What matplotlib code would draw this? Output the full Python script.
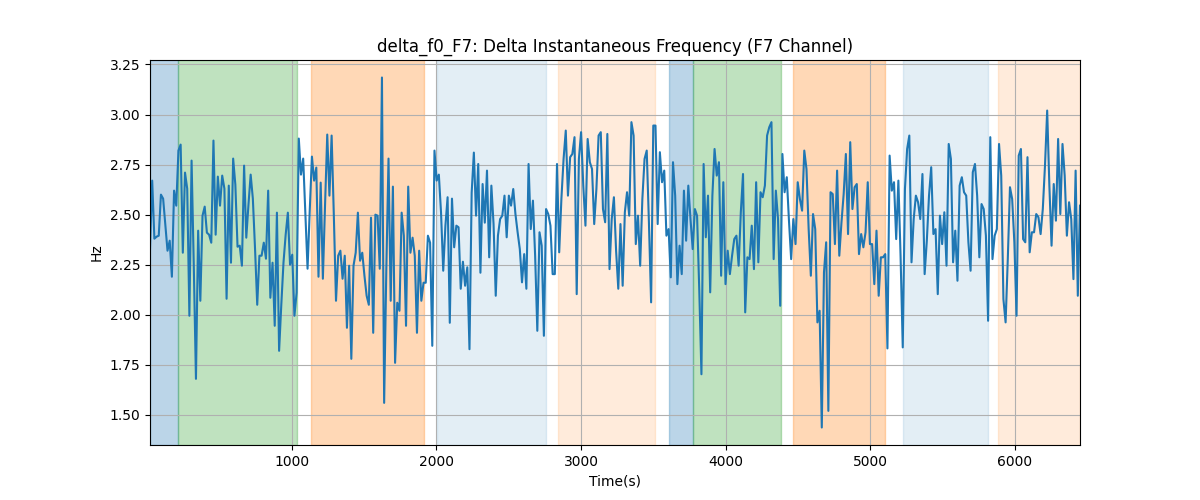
import numpy as np
import matplotlib
matplotlib.use("Agg")
import matplotlib.pyplot as plt

# значения сигнала (по участкам слева направо)
seg1 = [2.33, 2.67, 2.38, 2.39, 2.395, 2.60, 2.58, 2.45, 2.32, 2.37, 2.19, 2.62, 2.545, 2.82, 2.85,
        2.31, 2.71, 2.63, 1.995, 2.77, 2.25, 1.68, 2.42, 2.07, 2.495, 2.54, 2.41, 2.40, 2.36, 2.87,
        2.40, 2.69, 2.545, 2.695, 2.63, 2.08, 2.645, 2.26, 2.78, 2.65, 2.34, 2.345, 2.245, 2.745]
seg2 = [2.385, 2.55, 2.70, 2.58, 2.33, 2.05, 2.295, 2.295, 2.36, 2.28, 2.62, 2.085, 2.26, 1.945,
        2.51, 1.82, 2.05, 2.26, 2.40, 2.51, 2.25, 2.30, 1.995, 2.11, 2.88, 2.70, 2.78, 2.50,
        2.23, 2.52, 2.79, 2.67, 2.735, 2.19, 2.66, 2.18, 2.55, 2.90, 2.595, 2.895, 2.50]
seg3 = [2.07, 2.295, 2.32, 2.18, 2.295, 1.935, 2.245, 1.78, 2.245, 2.31, 2.51, 2.27, 2.31, 2.195,
        2.095, 2.05, 2.485, 1.91, 2.50, 2.495, 2.23, 3.185, 1.56, 2.23, 2.78, 2.07, 2.64, 1.76,
        2.06, 2.02, 2.51, 2.395, 1.945, 2.64, 2.31, 2.385, 2.295, 1.91, 2.32, 2.07, 2.16, 2.16,
        2.395, 2.36, 1.845]
seg4 = [2.82, 2.67, 2.70, 2.51, 2.22, 2.445, 2.587, 1.96, 2.58, 2.337, 2.445, 2.437, 2.13, 2.265,
        2.145, 2.237, 1.828, 2.61, 2.81, 2.495, 2.753, 2.21, 2.653, 2.46, 2.72, 2.287, 2.645,
        2.453, 2.095, 2.395, 2.478, 2.495, 2.595, 2.387, 2.595, 2.545, 2.628, 2.503, 2.412,
        2.328, 2.162, 2.303, 2.13]
seg5 = [2.753, 2.428, 2.57, 2.295, 1.92, 2.412, 2.345, 1.895, 2.528, 2.503, 2.445, 2.203, 2.203,
        2.753, 2.312, 2.578, 2.778, 2.92, 2.595, 2.787, 2.803, 2.887, 2.103, 2.778, 2.912, 2.645,
        2.445, 2.878, 2.762, 2.728, 2.453, 2.628, 2.895, 2.912, 2.528, 2.462, 2.903, 2.228,
        2.478, 2.587, 2.32, 2.13, 2.453]
seg6 = [2.145, 2.512, 2.612, 2.495, 2.962, 2.895, 2.353, 2.495, 2.245, 2.578, 2.778, 2.82, 2.462,
        2.062, 2.945, 2.945, 2.453, 2.812, 2.662, 2.72, 2.395, 2.428, 2.187, 2.762, 2.595, 2.153,
        2.345, 2.203, 2.62, 2.37, 2.645, 2.478, 2.328, 2.528, 2.495, 2.128, 1.703, 2.753, 2.387,
        2.595, 2.112, 2.595, 2.828, 2.695, 2.762]
seg7 = [2.195, 2.662, 2.153, 2.32, 2.203, 2.295, 2.378, 2.395, 2.245, 2.512, 2.703, 2.012, 2.287,
        2.278, 2.445, 2.228, 2.662, 2.262, 2.612, 2.587, 2.645, 2.895, 2.937, 2.962, 2.278, 2.62,
        2.478, 2.045, 2.803, 2.612, 2.687, 2.47, 2.278, 2.478, 2.353, 2.662, 2.578, 2.52, 2.82,
        2.728, 2.428, 2.195, 2.503]
seg8 = [2.428, 1.962, 2.02, 1.437, 2.212, 2.362, 1.52, 2.612, 2.603, 2.353, 2.72, 2.295, 2.462,
        2.603, 2.803, 2.403, 2.862, 2.528, 2.637, 2.653, 2.303, 2.403, 2.337, 2.412, 2.662, 2.353,
        2.353, 2.153, 2.42, 2.095, 2.287, 2.287, 2.303, 1.832, 2.795, 2.62, 2.662, 2.378, 2.67,
        2.295, 1.837, 2.628, 2.828, 2.895]
seg9 = [2.262, 2.478, 2.595, 2.562, 2.478, 2.703, 2.203, 2.37, 2.595, 2.737, 2.403, 2.428, 2.103,
        2.495, 2.353, 2.512, 2.245, 2.853, 2.778, 2.262, 2.42, 2.17, 2.645, 2.687, 2.612, 2.595,
        2.362, 2.22, 2.712, 2.753, 2.595, 2.287, 2.553, 2.528, 2.395, 1.97, 2.887, 2.278, 2.395,
        2.428, 2.853, 2.695, 2.078]
seg10 = [1.962, 2.278, 2.637, 2.578, 2.362, 1.995, 2.795, 2.828, 2.378, 2.362, 2.787, 2.312, 2.412,
         2.412, 2.503, 2.487, 2.403, 2.528, 2.745, 3.02, 2.645, 2.345, 2.653, 2.47, 2.878, 2.503,
         2.853, 2.695, 2.395, 2.562, 2.478, 2.178, 2.72, 2.095, 2.545]

freq = np.array(seg1 + seg2 + seg3 + seg4 + seg5 + seg6 + seg7 + seg8 + seg9 + seg10)
t_start, t_end = 20, 6450
time = np.linspace(t_start, t_end, len(freq))

# отмеченные интервалы: начало, конец, цвет, прозрачность
span_start = [t_start, 214, 1131, 2005, 2842, 3609, 3775, 4465, 5228, 5884]
span_end = [214, 1039, 1913, 2761, 3510, 3775, 4386, 5101, 5811, t_end]
span_color = ['tab:blue', 'tab:green', 'tab:orange', 'tab:blue', 'tab:orange',
              'tab:blue', 'tab:green', 'tab:orange', 'tab:blue', 'tab:orange']
span_alpha = [0.3, 0.3, 0.3, 0.12, 0.15, 0.3, 0.3, 0.3, 0.12, 0.15]

fig, ax = plt.subplots(figsize=(12, 5))

for s, e, c, a in zip(span_start, span_end, span_color, span_alpha):
    ax.axvspan(s, e, color=c, alpha=a)

ax.plot(time, freq, color='tab:blue')

ax.set_xlim(t_start, t_end)
ax.set_title('delta_f0_F7: Delta Instantaneous Frequency (F7 Channel)')
ax.set_xlabel('Time(s)')
ax.set_ylabel('Hz')
ax.grid(True)

plt.savefig("out.png")
